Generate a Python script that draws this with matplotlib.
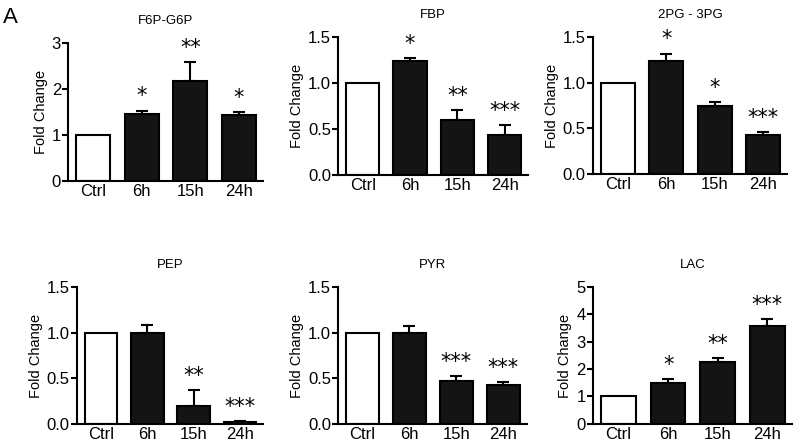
import numpy as np
import matplotlib.pyplot as plt

# data
groups = ["Ctrl", "6h", "15h", "24h"]
titles = ["F6P-G6P", "FBP", "2PG - 3PG", "PEP", "PYR", "LAC"]

f6p_mean = [1.0, 1.45, 2.18, 1.43]
f6p_err = [0.0, 0.08, 0.40, 0.06]
f6p_sig = ["", "*", "**", "*"]

fbp_mean = [1.0, 1.24, 0.60, 0.44]
fbp_err = [0.0, 0.03, 0.11, 0.10]
fbp_sig = ["", "*", "**", "***"]

pg_mean = [1.0, 1.24, 0.74, 0.43]
pg_err = [0.0, 0.08, 0.05, 0.025]
pg_sig = ["", "*", "*", "***"]

pep_mean = [1.0, 1.0, 0.20, 0.025]
pep_err = [0.0, 0.09, 0.17, 0.01]
pep_sig = ["", "", "**", "***"]

pyr_mean = [1.0, 1.0, 0.465, 0.43]
pyr_err = [0.0, 0.07, 0.055, 0.025]
pyr_sig = ["", "", "***", "***"]

lac_mean = [1.0, 1.51, 2.25, 3.58]
lac_err = [0.0, 0.14, 0.17, 0.24]
lac_sig = ["", "*", "**", "***"]

ylims = [3, 1.5, 1.5, 1.5, 1.5, 5]
yticks = [[0, 1, 2, 3], [0.0, 0.5, 1.0, 1.5], [0.0, 0.5, 1.0, 1.5],
          [0.0, 0.5, 1.0, 1.5], [0.0, 0.5, 1.0, 1.5], [0, 1, 2, 3, 4, 5]]
ytick_fmt = ["%d", "%.1f", "%.1f", "%.1f", "%.1f", "%d"]

means = [f6p_mean, fbp_mean, pg_mean, pep_mean, pyr_mean, lac_mean]
errs = [f6p_err, fbp_err, pg_err, pep_err, pyr_err, lac_err]
sigs = [f6p_sig, fbp_sig, pg_sig, pep_sig, pyr_sig, lac_sig]

# axes boxes [left, bottom, width, height] in figure fractions
boxes = [[0.085, 0.596, 0.244, 0.308],
         [0.4225, 0.609, 0.238, 0.308],
         [0.741, 0.612, 0.243, 0.305],
         [0.096, 0.054, 0.233, 0.305],
         [0.4225, 0.054, 0.236, 0.305],
         [0.741, 0.054, 0.249, 0.305]]

plt.rcParams["font.family"] = ["Liberation Sans", "DejaVu Sans"]

fig = plt.figure(figsize=(8, 4.48), dpi=100)
fig.text(0.004, 0.962, "A", fontsize=16, va="center", ha="left")

x = np.arange(len(groups))
for i in range(6):
    ax = fig.add_axes(boxes[i])
    colors = ["white", "#141414", "#141414", "#141414"]
    ax.bar(x, means[i], width=0.7, color=colors, edgecolor="black",
           linewidth=1.5, zorder=2)
    ax.errorbar(x[1:], means[i][1:], yerr=[np.zeros(3), errs[i][1:]],
                fmt="none", ecolor="black", elinewidth=1.5, capsize=4.5,
                capthick=1.5, zorder=1)
    off = ylims[i] * 0.03
    for j in range(len(groups)):
        if sigs[i][j]:
            ax.text(x[j], means[i][j] + errs[i][j] + off, sigs[i][j],
                    ha="center", va="bottom", fontsize=15,
                    family=["DejaVu Sans"])
    ax.set_xlim(-0.52, 3.5)
    ax.set_ylim(0, ylims[i])
    ax.set_yticks(yticks[i])
    ax.set_yticklabels([ytick_fmt[i] % v for v in yticks[i]], fontsize=12)
    ax.set_xticks(x)
    ax.set_xticklabels(groups, fontsize=12)
    ax.tick_params(axis="x", length=0, pad=2)
    ax.tick_params(axis="y", length=4, width=1.5, direction="out", pad=1)
    ax.spines["top"].set_visible(False)
    ax.spines["right"].set_visible(False)
    ax.spines["left"].set_linewidth(1.5)
    ax.spines["bottom"].set_linewidth(1.5)
    ax.set_ylabel("Fold Change", fontsize=10.5, labelpad=3)
    ax.set_title(titles[i], fontsize=9.5, pad=14)

plt.savefig("out.png", dpi=100)
